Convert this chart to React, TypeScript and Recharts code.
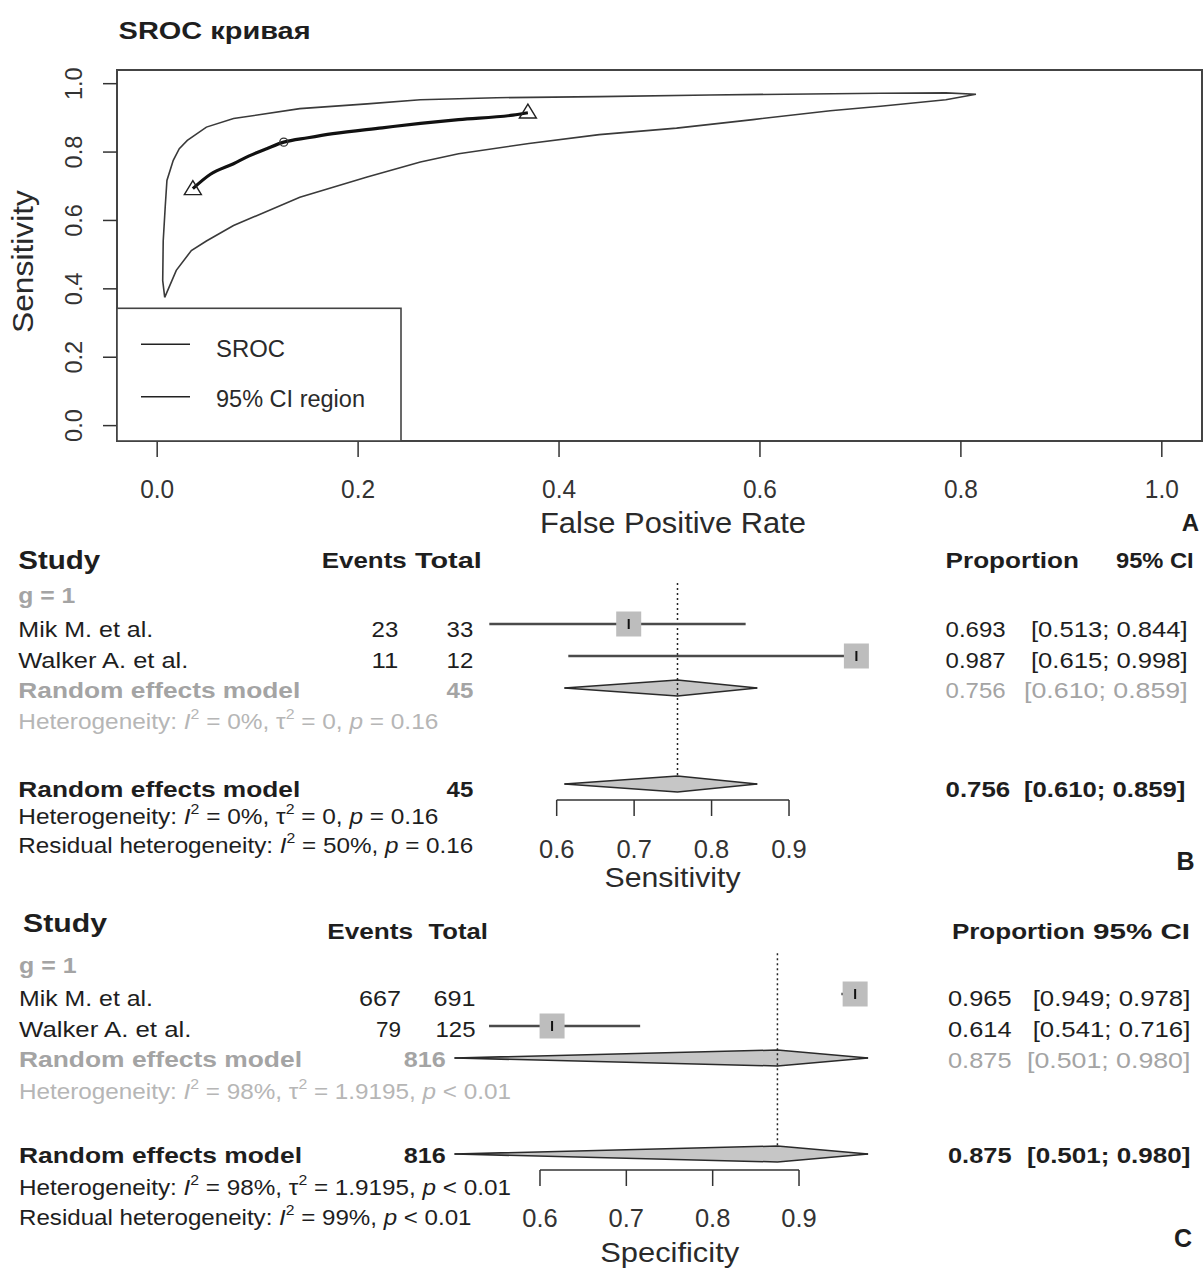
import React from 'react'
import {
  Area, ComposedChart, Line, ReferenceArea, ReferenceLine, Scatter, XAxis, YAxis,
} from 'recharts'

const FONT = '"Liberation Sans", Arial, Helvetica, sans-serif'
const INK = '#1e1e1e'
const GREY = '#a4a4a4'
const PALE = '#b6b6b6'

// ---- SROC panel ----
const srocFpr = [0.0355, 0.053, 0.076, 0.091, 0.109, 0.126, 0.15, 0.175, 0.224, 0.262, 0.3, 0.354, 0.369]
const srocSens = [0.693, 0.735, 0.766, 0.788, 0.81, 0.829, 0.842, 0.854, 0.871, 0.884, 0.895, 0.908, 0.915]
const srocEndFpr = [0.0355, 0.369]
const srocEndSens = [0.693, 0.917]
const summaryFpr = [0.126]
const summarySens = [0.829]

// closed 95% confidence contour, upper edge first then back along the lower edge
const ciFpr = [
  0.0075, 0.0055, 0.006, 0.008, 0.0097, 0.016, 0.022, 0.03, 0.049, 0.076, 0.142, 0.209, 0.262, 0.338,
  0.44, 0.55, 0.72, 0.785, 0.815,
  0.785, 0.72, 0.67, 0.593, 0.517, 0.44, 0.37, 0.3, 0.262, 0.209, 0.142, 0.076, 0.049, 0.034, 0.019, 0.0075,
]
const ciSens = [
  0.375, 0.424, 0.54, 0.64, 0.717, 0.776, 0.81, 0.834, 0.873, 0.898, 0.927, 0.941, 0.953, 0.959,
  0.962, 0.967, 0.972, 0.973, 0.969,
  0.953, 0.934, 0.921, 0.895, 0.87, 0.851, 0.825, 0.795, 0.771, 0.727, 0.668, 0.585, 0.54, 0.512, 0.454, 0.375,
]
const rocTicks = [0, 0.2, 0.4, 0.6, 0.8, 1]

// ---- forest panels ----
const forestTicks = [0.6, 0.7, 0.8, 0.9]
const studies = ['Mik M. et al.', 'Walker A. et al.']

const sensEvents = [23, 11]
const sensTotal = [33, 12]
const sensEst = [0.693, 0.987]
const sensLo = [0.513, 0.615]
const sensHi = [0.844, 0.998]
const sensPooled = [0.756, 0.61, 0.859] // estimate, lower, upper
const sensHet = ['0%', '0', '= 0.16'] // I², tau², p
const sensResid = ['50%', '= 0.16']

const specEvents = [667, 79]
const specTotal = [691, 125]
const specEst = [0.965, 0.614]
const specLo = [0.949, 0.541]
const specHi = [0.978, 0.716]
const specPooled = [0.875, 0.501, 0.98]
const specHet = ['98%', '1.9195', '< 0.01']
const specResid = ['99%', '< 0.01']

const pts = (xs: number[], ys: number[]) => xs.map((x, i) => ({ x, y: ys[i] }))
const ci = (lo: number, hi: number) => `[${lo.toFixed(3)}; ${hi.toFixed(3)}]`
const sum = (a: number[]) => a.reduce((s, v) => s + v, 0)

function T({ x, y, w, size = 22.5, bold = false, color = INK, anchor = 'start', children }: any) {
  return (
    <text x={x} y={y} fontSize={size} fontWeight={bold ? 700 : 400} fill={color} textAnchor={anchor}
      fontFamily={FONT} textLength={w} lengthAdjust={w ? 'spacingAndGlyphs' : undefined}>
      {children}
    </text>
  )
}

// "Heterogeneity: I² = .., τ² = .., p .." with raised exponents
function Het({ x, y, w, color = INK, label, i2, tau2, p }: any) {
  return (
    <text x={x} y={y} fontSize={21.5} fill={color} fontFamily={FONT} textLength={w} lengthAdjust="spacingAndGlyphs">
      {label + ': '}
      <tspan fontStyle="italic">I</tspan>
      <tspan fontSize={14} dy={-10}>2</tspan>
      <tspan dy={10}>{' = ' + i2 + ', '}</tspan>
      {tau2 !== undefined && <tspan>τ</tspan>}
      {tau2 !== undefined && <tspan fontSize={14} dy={-10}>2</tspan>}
      {tau2 !== undefined && <tspan dy={10}>{' = ' + tau2 + ', '}</tspan>}
      <tspan fontStyle="italic">p</tspan>
      <tspan>{' ' + p}</tspan>
    </text>
  )
}

function RocTickX({ x, y, payload }: any) {
  return (
    <text x={x} y={y} textAnchor="middle" fontSize={26} fill="#333" fontFamily={FONT}
      textLength={34} lengthAdjust="spacingAndGlyphs">{payload.value.toFixed(1)}</text>
  )
}

function RocTickY({ x, y, payload }: any) {
  return (
    <text transform={`translate(${x},${y}) rotate(-90)`} textAnchor="middle" fontSize={23.5} fill="#333"
      fontFamily={FONT}>{payload.value.toFixed(1)}</text>
  )
}

function OpenTriangle({ cx, cy }: any) {
  return <polygon points={`${cx},${cy - 8} ${cx - 8.5},${cy + 6} ${cx + 8.5},${cy + 6}`}
    fill="none" stroke="#222" strokeWidth={1.4} />
}

function OpenCircle({ cx, cy }: any) {
  return <circle cx={cx} cy={cy} r={4} fill="none" stroke="#333" strokeWidth={1.3} />
}

function RocChart() {
  return (
    <ComposedChart width={1203} height={546} margin={{ top: 70, right: 1, bottom: 0, left: 0 }}>
      <XAxis type="number" dataKey="x" domain={[-0.04, 1.04]} ticks={rocTicks} interval={0}
        axisLine={false} tickLine={{ stroke: '#333', strokeWidth: 1.5 }} tickSize={16} tickMargin={41}
        height={105} tick={<RocTickX />} />
      <YAxis type="number" dataKey="y" domain={[-0.045, 1.04]} ticks={rocTicks} interval={0}
        axisLine={false} tickLine={{ stroke: '#333', strokeWidth: 1.5 }} tickSize={14} tickMargin={21}
        width={117} tick={<RocTickY />} />
      <ReferenceArea x1={-0.04} x2={1.04} y1={-0.045} y2={1.04} fill="none" stroke="#444" strokeWidth={2} />
      <Line data={pts(ciFpr, ciSens)} dataKey="y" type="linear" stroke="#3a3a3a" strokeWidth={1.6}
        dot={false} activeDot={false} isAnimationActive={false} />
      <Line data={pts(srocFpr, srocSens)} dataKey="y" type="monotone" stroke="#111" strokeWidth={3.2}
        dot={false} activeDot={false} isAnimationActive={false} />
      <Scatter data={pts(srocEndFpr, srocEndSens)} shape={<OpenTriangle />} isAnimationActive={false} />
      <Scatter data={pts(summaryFpr, summarySens)} shape={<OpenCircle />} isAnimationActive={false} />
    </ComposedChart>
  )
}

function ForestTick({ x, y, payload }: any) {
  return (
    <text x={x} y={y} textAnchor="middle" fontSize={25.5} fill="#333" fontFamily={FONT}>
      {payload.value.toFixed(1)}
    </text>
  )
}

function StudyBox({ cx, cy }: any) {
  return (
    <g>
      <rect x={cx - 12.5} y={cy - 12.5} width={25} height={25} fill="#bdbdbd" />
      <line x1={cx} x2={cx} y1={cy - 5} y2={cy + 5} stroke="#111" strokeWidth={2} />
    </g>
  )
}

const DH = 0.25 // half height of the pooled diamonds, in rows
const SUB_ROW = 2
const ALL_ROW = 5

function Forest({ top, padLeft, padRight, yMax, est, lo, hi, pooled, dotTop, dotBottom, tickMargin }: any) {
  const diamonds = [
    { x: pooled[1], sub: [SUB_ROW, SUB_ROW], all: [ALL_ROW, ALL_ROW] },
    { x: pooled[0], sub: [SUB_ROW - DH, SUB_ROW + DH], all: [ALL_ROW - DH, ALL_ROW + DH] },
    { x: pooled[2], sub: [SUB_ROW, SUB_ROW], all: [ALL_ROW, ALL_ROW] },
  ]
  return (
    <div style={{ position: 'absolute', left: 0, top }}>
      <ComposedChart width={1203} height={340} data={diamonds}
        margin={{ top: 0, right: padRight, bottom: 0, left: padLeft }}>
        <XAxis type="number" dataKey="x" domain={[0.4, 1.1]} ticks={forestTicks} interval={0}
          axisLine={false} tickLine={{ stroke: '#333', strokeWidth: 1.5 }} tickSize={16}
          tickMargin={tickMargin} height={100} tick={<ForestTick />} />
        <YAxis type="number" dataKey="y" domain={[-2, yMax]} reversed hide />
        <ReferenceLine segment={[{ x: 0.6, y: yMax }, { x: 0.9, y: yMax }]} stroke="#333" strokeWidth={1.5} />
        <Area dataKey="sub" type="linear" fill="#c6c6c6" fillOpacity={1} stroke="#2a2a2a" strokeWidth={1.5}
          dot={false} activeDot={false} isAnimationActive={false} />
        <Area dataKey="all" type="linear" fill="#c6c6c6" fillOpacity={1} stroke="#2a2a2a" strokeWidth={1.5}
          dot={false} activeDot={false} isAnimationActive={false} />
        <ReferenceLine segment={[{ x: pooled[0], y: dotTop }, { x: pooled[0], y: dotBottom }]}
          stroke="#222" strokeWidth={1.5} strokeDasharray="2 3" />
        <Scatter data={pts(est, est.map((_: number, i: number) => i))} shape={<StudyBox />}
          isAnimationActive={false} />
        {lo.map((l: number, i: number) => (
          <ReferenceLine key={i} segment={[{ x: l, y: i }, { x: hi[i], y: i }]} stroke="#4a4a4a" strokeWidth={2.5} />
        ))}
      </ComposedChart>
    </div>
  )
}

function Overlay() {
  return (
    <svg width={1203} height={1270} style={{ position: 'absolute', left: 0, top: 0, pointerEvents: 'none' }}>
      {/* SROC panel */}
      <T x={118.6} y={39} w={192} size={24} bold>SROC кривая</T>
      <text transform="translate(33,261.5) rotate(-90)" textAnchor="middle" fontSize={29} fill="#2a2a2a"
        fontFamily={FONT} textLength={143} lengthAdjust="spacingAndGlyphs">Sensitivity</text>
      <T x={673} y={533} w={266} size={29} anchor="middle" color="#2a2a2a">False Positive Rate</T>
      <T x={1199} y={531} size={24} bold anchor="end">A</T>
      <rect x={117} y={308.3} width={284} height={132.7} fill="#fff" stroke="#444" strokeWidth={1.6} />
      <line x1={141} x2={190} y1={344.3} y2={344.3} stroke="#222" strokeWidth={1.5} />
      <line x1={141} x2={190} y1={396.7} y2={396.7} stroke="#222" strokeWidth={1.5} />
      <T x={216} y={356.7} w={69} size={23.5} color="#2a2a2a">SROC</T>
      <T x={216} y={406.7} w={149} size={23.5} color="#2a2a2a">95% CI region</T>

      {/* sensitivity forest */}
      <T x={18.3} y={569} w={82} size={25} bold>Study</T>
      <T x={321.7} y={568.3} w={85} size={21.5} bold>Events</T>
      <T x={415} y={568.3} w={66.7} size={21.5} bold>Total</T>
      <T x={945.6} y={568.3} w={133.4} size={21.5} bold>Proportion</T>
      <T x={1116} y={568.3} w={77.7} size={21.5} bold>95% CI</T>
      <T x={18.3} y={603.3} w={57} size={21.5} bold color={GREY}>g = 1</T>
      {studies.map((s, i) => {
        const y = [636.7, 668.3][i]
        return (
          <g key={s}>
            <T x={18.3} y={y} w={[135, 170][i]}>{s}</T>
            <T x={398.3} y={y} w={26.7} anchor="end">{sensEvents[i]}</T>
            <T x={473.3} y={y} w={26.7} anchor="end">{sensTotal[i]}</T>
            <T x={945.6} y={y} w={60}>{sensEst[i].toFixed(3)}</T>
            <T x={1031} y={y} w={156.7}>{ci(sensLo[i], sensHi[i])}</T>
          </g>
        )
      })}
      <T x={18.3} y={698.3} w={282} bold color={GREY}>Random effects model</T>
      <T x={473.3} y={698.3} w={26.7} bold color={GREY} anchor="end">{sum(sensTotal)}</T>
      <T x={945.6} y={698.3} w={60} color={GREY}>{sensPooled[0].toFixed(3)}</T>
      <T x={1024} y={698.3} w={163.7} color={GREY}>{ci(sensPooled[1], sensPooled[2])}</T>
      <Het x={18.3} y={729} w={420} color={PALE} label="Heterogeneity" i2={sensHet[0]} tau2={sensHet[1]} p={sensHet[2]} />
      <T x={18.3} y={796.7} w={282} bold>Random effects model</T>
      <T x={473.3} y={796.7} w={26.7} bold anchor="end">{sum(sensTotal)}</T>
      <T x={945.6} y={796.7} w={64.6} bold>{sensPooled[0].toFixed(3)}</T>
      <T x={1024} y={796.7} w={161.4} bold>{ci(sensPooled[1], sensPooled[2])}</T>
      <Het x={18.3} y={824} w={420} label="Heterogeneity" i2={sensHet[0]} tau2={sensHet[1]} p={sensHet[2]} />
      <Het x={18.3} y={853.3} w={455} label="Residual heterogeneity" i2={sensResid[0]} p={sensResid[1]} />
      <T x={672.5} y={886.7} w={136} size={28} anchor="middle" color="#2a2a2a">Sensitivity</T>
      <T x={1194.6} y={870} size={25} bold anchor="end">B</T>

      {/* specificity forest */}
      <T x={23} y={932} w={84} size={26} bold>Study</T>
      <T x={327.2} y={939.3} w={86} size={21.5} bold>Events</T>
      <T x={428.6} y={939.3} w={59.3} size={21.5} bold>Total</T>
      <T x={951.9} y={939.3} w={133} size={21.5} bold>Proportion</T>
      <T x={1093} y={939.3} w={97} size={21.5} bold>95% CI</T>
      <T x={19} y={972.7} w={57.5} size={21.5} bold color={GREY}>g = 1</T>
      {studies.map((s, i) => {
        const y = [1006, 1036.7][i]
        return (
          <g key={s}>
            <T x={19} y={y} w={[134, 172.4][i]}>{s}</T>
            <T x={401} y={y} w={[42, 25][i]} anchor="end">{specEvents[i]}</T>
            <T x={475.5} y={y} w={[42, 40][i]} anchor="end">{specTotal[i]}</T>
            <T x={948} y={y} w={63.5}>{specEst[i].toFixed(3)}</T>
            <T x={1032.7} y={y} w={157.7}>{ci(specLo[i], specHi[i])}</T>
          </g>
        )
      })}
      <T x={19} y={1067} w={283} bold color={GREY}>Random effects model</T>
      <T x={403.7} y={1067} w={42} bold color={GREY}>{sum(specTotal)}</T>
      <T x={948} y={1067.5} w={63.5} color={GREY}>{specPooled[0].toFixed(3)}</T>
      <T x={1027} y={1067.5} w={163.4} color={GREY}>{ci(specPooled[1], specPooled[2])}</T>
      <Het x={19} y={1099.3} w={492} color={PALE} label="Heterogeneity" i2={specHet[0]} tau2={specHet[1]} p={specHet[2]} />
      <T x={19} y={1163.3} w={283} bold>Random effects model</T>
      <T x={403.7} y={1163.3} w={42} bold>{sum(specTotal)}</T>
      <T x={948} y={1163.3} w={63.5} bold>{specPooled[0].toFixed(3)}</T>
      <T x={1027} y={1163.3} w={163.4} bold>{ci(specPooled[1], specPooled[2])}</T>
      <Het x={19} y={1195} w={492} label="Heterogeneity" i2={specHet[0]} tau2={specHet[1]} p={specHet[2]} />
      <Het x={19} y={1225} w={452.5} label="Residual heterogeneity" i2={specResid[0]} p={specResid[1]} />
      <T x={669.7} y={1261.7} w={139} size={28} anchor="middle" color="#2a2a2a">Specificity</T>
      <T x={1192} y={1246.7} size={25} bold anchor="end">C</T>
    </svg>
  )
}

export default function App() {
  return (
    <div style={{ position: 'absolute', left: 0, top: 0, width: 1203, height: 1270, background: '#fff', overflow: 'hidden' }}>
      <div style={{ position: 'absolute', left: 0, top: 0 }}>
        <RocChart />
      </div>
      <Forest top={560} padLeft={401.8} padRight={259.1} yMax={5.5} est={sensEst} lo={sensLo} hi={sensHi}
        pooled={sensPooled} dotTop={-1.28} dotBottom={4.81} tickMargin={41.7} />
      <Forest top={930} padLeft={367.3} padRight={231.3} yMax={5.5} est={specEst} lo={specLo} hi={specHi}
        pooled={specPooled} dotTop={-1.27} dotBottom={4.78} tickMargin={40.7} />
      <Overlay />
    </div>
  )
}
